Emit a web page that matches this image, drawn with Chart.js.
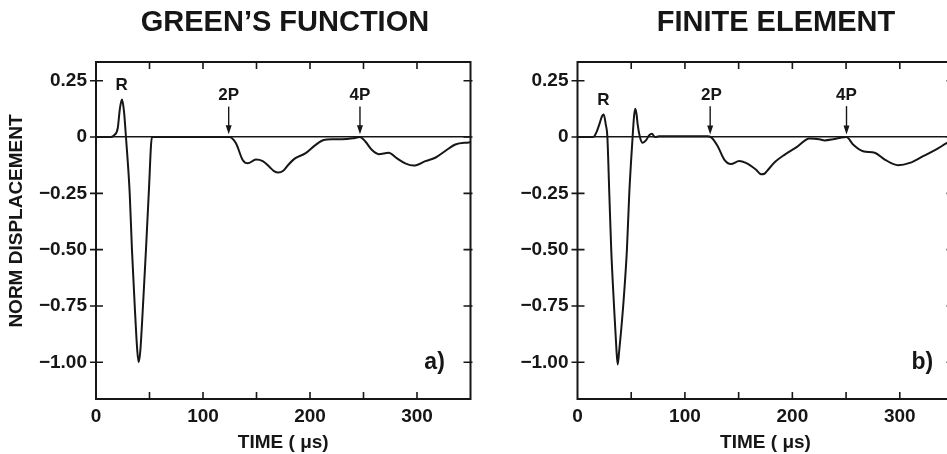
<!DOCTYPE html>
<html>
<head>
<meta charset="utf-8">
<script src="https://cdn.jsdelivr.net/npm/chart.js@4.4.1/dist/chart.umd.min.js"></script>
<style>
  html, body { margin: 0; padding: 0; background: #fff; overflow: hidden; }
  body { width: 947px; height: 454px; position: relative; }
  .panel { position: absolute; top: 0; }
  #wrapA { left: 0; }
  #wrapB { left: 480px; }
</style>
</head>
<body>
<div class="panel" id="wrapA"><canvas id="chartA" width="480" height="454"></canvas></div>
<div class="panel" id="wrapB"><canvas id="chartB" width="484" height="454"></canvas></div>
<script>
// data (time in µs, normalised displacement)
const greensTime = [0, 14, 17, 20.3, 22.4, 24.3, 26.2, 28, 31.5, 33.6, 36.2, 38.6, 39.9, 41.4, 43.9, 46.7, 49.3, 52.3,
  60, 90, 124.6, 130.8, 137.1, 141.8, 149.5, 155.8, 162, 166, 170.4, 175, 180, 186, 195.6, 205, 212.8, 220, 230, 240,
  246.7, 251.7, 258, 264.2, 273.6, 281.3, 289, 297, 307.8, 317.1, 326.4, 335.8, 348.3, 350];
const greensDisp = [0, 0, 0.008, 0.039, 0.128, 0.166, 0.112, 0, -0.25, -0.5, -0.75, -0.95, -1.0, -0.95, -0.75, -0.5, -0.25, 0,
  0, 0, 0, -0.028, -0.102, -0.117, -0.1, -0.107, -0.132, -0.15, -0.158, -0.15, -0.122, -0.095, -0.073, -0.036, -0.013, -0.01, -0.01, -0.006,
  0, -0.02, -0.058, -0.076, -0.07, -0.095, -0.117, -0.127, -0.107, -0.092, -0.062, -0.033, -0.024, -0.023];

const feTime = [0, 14, 15.6, 18, 20.3, 22.8, 24.4, 26.3, 27.8, 29.6, 31.4, 34, 36.2, 37.4, 38.8, 40.6, 43, 46, 48.2, 51.3,
  52.6, 53.8, 55, 56, 58.1, 60.6, 63.7, 66.8, 69.3, 72.1, 76, 121, 124.2, 130.4, 136.6, 142.8, 150.5, 156.7, 166, 171,
  174, 176.5, 184, 193, 204, 216, 225, 230, 238, 245, 250.4, 256.5, 265.8, 276.7, 286, 298.4, 309.3, 321.7, 334, 344, 350];
const feDisp = [0, 0, 0.003, 0.025, 0.056, 0.092, 0.1, 0.056, 0, -0.25, -0.5, -0.75, -0.94, -1.01, -0.95, -0.86, -0.72, -0.5, -0.25, 0,
  0.09, 0.125, 0.1, 0.056, 0, -0.026, -0.015, 0.008, 0.014, 0, 0.003, 0.003, 0, -0.04, -0.1, -0.12, -0.107, -0.115, -0.144, -0.165,
  -0.163, -0.15, -0.11, -0.078, -0.045, -0.007, -0.01, -0.015, -0.01, -0.003, 0, -0.033, -0.063, -0.07, -0.1, -0.125, -0.115, -0.085, -0.055, -0.026, -0.012];

const xTicks = [0, 50, 100, 150, 200, 250, 300, 350];
const xLabels = [0, 100, 200, 300];
const yTicks = [-1, -0.75, -0.5, -0.25, 0, 0.25];
const yLabels = ["\u22121.00", "\u22120.75", "\u22120.50", "\u22120.25", "0", "0.25"];

const ink = "#161616";
const face = "'Liberation Sans', Arial, sans-serif";
Chart.defaults.font.family = face;

// frame with inward ticks + the text marks (R, 2P, 4P, panel tag, titles)
const marks = {
  id: "marks",
  afterDraw(chart, args, opts) {
    const { ctx, chartArea: a, scales: { x, y } } = chart;
    ctx.save();
    ctx.strokeStyle = ink;
    ctx.fillStyle = ink;
    ctx.lineWidth = 2;
    ctx.strokeRect(a.left, a.top, a.right - a.left, a.bottom - a.top);

    ctx.lineWidth = 1.6;
    ctx.beginPath();
    xTicks.slice(1, -1).forEach(v => {
      const px = x.getPixelForValue(v);
      ctx.moveTo(px, a.bottom); ctx.lineTo(px, a.bottom - 7);
      ctx.moveTo(px, a.top); ctx.lineTo(px, a.top + 7);
    });
    yTicks.forEach(v => {
      const py = y.getPixelForValue(v);
      ctx.moveTo(a.left - 6, py); ctx.lineTo(a.left + 7, py);
      ctx.moveTo(a.right - 7, py); ctx.lineTo(a.right + 2, py);
    });
    ctx.stroke();

    ctx.textAlign = "center";
    ctx.textBaseline = "middle";
    ctx.font = "bold 17px " + face;
    opts.picks.forEach(p => {
      const px = x.getPixelForValue(p.x);
      ctx.fillText(p.text, px, y.getPixelForValue(p.y));
      if (p.from === undefined) return;
      const ax = p.ax === undefined ? px : x.getPixelForValue(p.ax);
      const y0 = y.getPixelForValue(p.from), y1 = y.getPixelForValue(p.to);
      ctx.lineWidth = 1.4;
      ctx.beginPath();
      ctx.moveTo(ax, y0);
      ctx.lineTo(ax, y1 - 6);
      ctx.stroke();
      ctx.beginPath();
      ctx.moveTo(ax, y1);
      ctx.lineTo(ax - 3, y1 - 9);
      ctx.lineTo(ax + 3, y1 - 9);
      ctx.closePath();
      ctx.fill();
    });

    ctx.font = "bold 23px " + face;
    ctx.textAlign = "right";
    ctx.fillText(opts.tag.text, x.getPixelForValue(opts.tag.x), y.getPixelForValue(opts.tag.y));

    ctx.font = "bold 29px " + face;
    ctx.textAlign = "center";
    ctx.fillText(opts.title, x.getPixelForValue(opts.titleAt), 23);

    if (opts.yTitle) {
      ctx.font = "bold 19px " + face;
      ctx.translate(16.5, 221);
      ctx.rotate(-Math.PI / 2);
      ctx.fillText(opts.yTitle, 0, 0);
    }
    ctx.restore();
  }
};

const tickFont = { family: face, weight: "bold", size: 19 };

function makeChart(id, time, disp, cfg) {
  return new Chart(document.getElementById(id), {
    type: "line",
    data: {
      datasets: [{
        data: time.map((t, i) => ({ x: t, y: disp[i] })),
        borderColor: ink,
        borderWidth: 2,
        pointRadius: 0,
        cubicInterpolationMode: "monotone",
        fill: false,
      }],
    },
    options: {
      responsive: false,
      animation: false,
      layout: { padding: { top: 62, right: cfg.padRight, bottom: 0, left: 0 } },
      plugins: {
        legend: { display: false },
        tooltip: { enabled: false },
        marks: cfg.marks,
      },
      scales: {
        x: {
          type: "linear",
          min: 0,
          max: 350,
          afterBuildTicks: s => { s.ticks = xTicks.map(v => ({ value: v })); },
          afterFit: s => { s.height = 55; },
          border: { display: false },
          grid: { display: false, drawTicks: false },
          ticks: {
            padding: 6,
            maxRotation: 0,
            autoSkip: false,
            color: ink,
            font: tickFont,
            callback: v => (xLabels.includes(v) ? String(v) : ""),
          },
          title: {
            display: true,
            text: "TIME ( \u03bcs)",
            color: ink,
            font: { family: face, weight: "bold", size: 19 },
            padding: 0,
          },
        },
        y: {
          min: -1.163,
          max: 0.333,
          afterBuildTicks: s => { s.ticks = yTicks.map(v => ({ value: v })); },
          afterFit: s => { s.width = cfg.yWidth; },
          border: { display: false },
          grid: {
            drawTicks: false,
            lineWidth: 1.5,
            color: c => (c.tick && c.tick.value === 0 ? ink : "rgba(0,0,0,0)"),
          },
          ticks: {
            padding: 9,
            autoSkip: false,
            color: ink,
            font: tickFont,
            callback: (v, i) => yLabels[i],
          },
        },
      },
    },
    plugins: [marks],
  });
}

makeChart("chartA", greensTime, greensDisp, {
  yWidth: 96,
  padRight: 9.5,
  marks: {
    title: "GREEN\u2019S FUNCTION",
    titleAt: 176.6,
    yTitle: "NORM DISPLACEMENT",
    picks: [
      { text: "R", x: 24, y: 0.231 },
      { text: "2P", x: 124, y: 0.187, from: 0.135, to: 0.012 },
      { text: "4P", x: 246.7, y: 0.187, from: 0.135, to: 0.012 },
    ],
    tag: { text: "a)", x: 326, y: -1.0 },
  },
});

makeChart("chartB", feTime, feDisp, {
  yWidth: 97.5,
  padRight: 10.5,
  marks: {
    title: "FINITE ELEMENT",
    titleAt: 184.7,
    picks: [
      { text: "R", x: 24.2, y: 0.162 },
      { text: "2P", x: 124.6, y: 0.187, from: 0.137, to: 0.011, ax: 123.5 },
      { text: "4P", x: 250.4, y: 0.187, from: 0.137, to: 0.011 },
    ],
    tag: { text: "b)", x: 331, y: -1.0 },
  },
});
</script>
</body>
</html>
